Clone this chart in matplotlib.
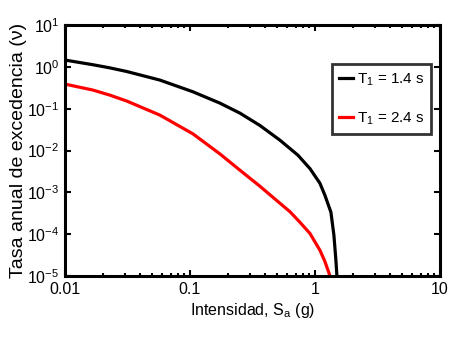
import matplotlib
matplotlib.use("Agg")
import matplotlib.pyplot as plt
from matplotlib.ticker import LogLocator, FixedLocator, FixedFormatter

plt.rcParams['font.family'] = ['Liberation Sans', 'DejaVu Sans']
plt.rcParams['mathtext.fontset'] = 'custom'
plt.rcParams['mathtext.rm'] = 'Liberation Sans'
plt.rcParams['mathtext.it'] = 'Liberation Sans'

# Data
sa_t14 = [0.01, 0.01675, 0.02291, 0.03133, 0.05754, 0.1057, 0.1738, 0.2512, 0.3631,
          0.5248, 0.7311, 0.912, 1.096, 1.202, 1.343, 1.419, 1.472, 1.50]
nu_t14 = [1.455, 1.125, 0.946, 0.773, 0.483, 0.254, 0.136, 0.0785, 0.0398,
          0.01774, 0.00776, 0.00372, 0.00166, 8.57e-4, 3.36e-4, 9.46e-5, 2.39e-5, 1e-5]
sa_t24 = [0.01, 0.01675, 0.02291, 0.03133, 0.05754, 0.1057, 0.1738, 0.2512,
          0.3631, 0.5248, 0.631, 0.7586, 0.912, 1.096, 1.202, 1.294, 1.318]
nu_t24 = [0.388, 0.279, 0.211, 0.152, 0.0703, 0.0251, 0.00832, 0.0034,
          0.001406, 5.52e-4, 3.47e-4, 1.94e-4, 1.05e-4, 4.17e-5, 2.24e-5, 1.2e-5, 1e-5]
labels = ['T$_1$ = 1.4 s', 'T$_1$ = 2.4 s']
xticks = [0.01, 0.1, 1, 10]
xticklabels = ['0.01', '0.1', '1', '10']

fig = plt.figure(figsize=(4.67, 3.38), dpi=100)
ax = fig.add_axes([0.139, 0.183, 0.803, 0.743])
ax.plot(sa_t14, nu_t14, color='black', lw=2.3, label=labels[0], solid_joinstyle='round')
ax.plot(sa_t24, nu_t24, color='#ff0000', lw=2.3, label=labels[1], solid_joinstyle='round')
ax.set_xscale('log')
ax.set_yscale('log')
ax.set_xlim(0.01, 10)
ax.set_ylim(1e-5, 10)
ax.xaxis.set_major_locator(FixedLocator(xticks))
ax.xaxis.set_major_formatter(FixedFormatter(xticklabels))
ax.yaxis.set_major_locator(LogLocator(base=10, numticks=10))
ax.yaxis.set_minor_locator(plt.NullLocator())
for s in ax.spines.values():
    s.set_linewidth(2.2)
ax.tick_params(which='both', direction='in', top=True, right=True, width=1.5, labelsize=11.5)
ax.tick_params(which='major', length=4, pad=4)
ax.tick_params(which='minor', length=2.5)
ax.set_xlabel('Intensidad, S$_{\\mathrm{a}}$ (g)', fontsize=11.5, labelpad=3)
ax.set_ylabel('Tasa anual de excedencia (\u03bd)', fontsize=14, labelpad=0)
leg = ax.legend(loc='upper right', bbox_to_anchor=(0.985, 0.855), fontsize=11,
                handlelength=0.9, handletextpad=0.25, frameon=True, fancybox=False,
                edgecolor='black', borderpad=0.45, labelspacing=1.5, borderaxespad=0.2)
leg.get_frame().set_linewidth(2.0)
fig.savefig('out.png', dpi=100)
